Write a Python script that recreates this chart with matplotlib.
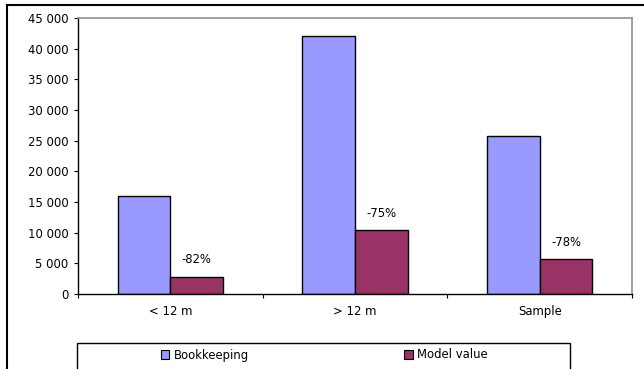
import numpy as np
import matplotlib
matplotlib.use("Agg")
import matplotlib.pyplot as plt
from matplotlib.patches import Rectangle, Patch
from matplotlib.lines import Line2D
from matplotlib.ticker import FuncFormatter

categories = ["< 12 m", "> 12 m", "Sample"]
bookkeeping = [15900, 42000, 25800]
model_value = [2850, 10450, 5650]
change_labels = ["-82%", "-75%", "-78%"]
series_names = ["Bookkeeping", "Model value"]

plt.rcParams["font.family"] = ["DejaVu Sans"]
plt.rcParams["font.size"] = 8.4

W, H = 644, 369
fig = plt.figure(figsize=(W / 100, H / 100), dpi=100)
ax = fig.add_axes([78 / W, 1 - 294 / H, (632 - 78) / W, (294 - 18) / H])

x = np.arange(len(categories)) + 0.5
bw = 0.285
ax.bar(x - bw / 2, bookkeeping, bw, color="#9999FF", edgecolor="black", linewidth=1.0)
ax.bar(x + bw / 2, model_value, bw, color="#993366", edgecolor="black", linewidth=1.0)
for xi, v, s in zip(x, model_value, change_labels):
    ax.text(xi + bw / 2, v + 2750, s, ha="center", va="center")

# category names, all on one baseline below the axis
for xi, name in zip(x, categories):
    ax.annotate(name, xy=(xi, 0), xycoords=("data", "axes fraction"),
                xytext=(0, -15), textcoords="offset points", ha="center", va="baseline")

ax.set_xlim(0, 3)
ax.set_ylim(0, 45000)
ax.set_yticks(np.arange(0, 45001, 5000))
ax.yaxis.set_major_formatter(FuncFormatter(lambda v, p: f"{int(v):,}".replace(",", " ")))
ax.set_xticks([0, 1, 2, 3])
ax.set_xticklabels([])
ax.tick_params(axis="both", which="major", length=3, width=0.8, direction="out", color="black")
ax.tick_params(axis="y", pad=4)
for sp in ["top", "right"]:
    ax.spines[sp].set_color("#909090")
    ax.spines[sp].set_linewidth(1.2)
for sp in ["left", "bottom"]:
    ax.spines[sp].set_color("black")
    ax.spines[sp].set_linewidth(1.0)

# outer chart border (cropped at right and bottom)
fig.add_artist(Line2D([7 / W, 7 / W], [0, 1 - 5 / H], color="black", lw=1.5, transform=fig.transFigure))
fig.add_artist(Line2D([7 / W, 1], [1 - 5 / H, 1 - 5 / H], color="black", lw=1.5, transform=fig.transFigure))

# legend box
fig.add_artist(Rectangle((77 / W, -0.02), (570 - 77) / W, 0.02 + (369 - 343) / H,
                         transform=fig.transFigure, fill=False, edgecolor="black", lw=1.0))
colors = ["#9999FF", "#993366"]
centers = [205, 446]
for name, c, cx in zip(series_names, colors, centers):
    fig.legend(handles=[Patch(facecolor=c, edgecolor="black", linewidth=0.8, label=name)],
               loc="center", bbox_to_anchor=(cx / W, 1 - 355 / H), frameon=False,
               handlelength=0.75, handleheight=0.75, handletextpad=0.4, fontsize=8.4)

fig.savefig("out.png", dpi=100)
